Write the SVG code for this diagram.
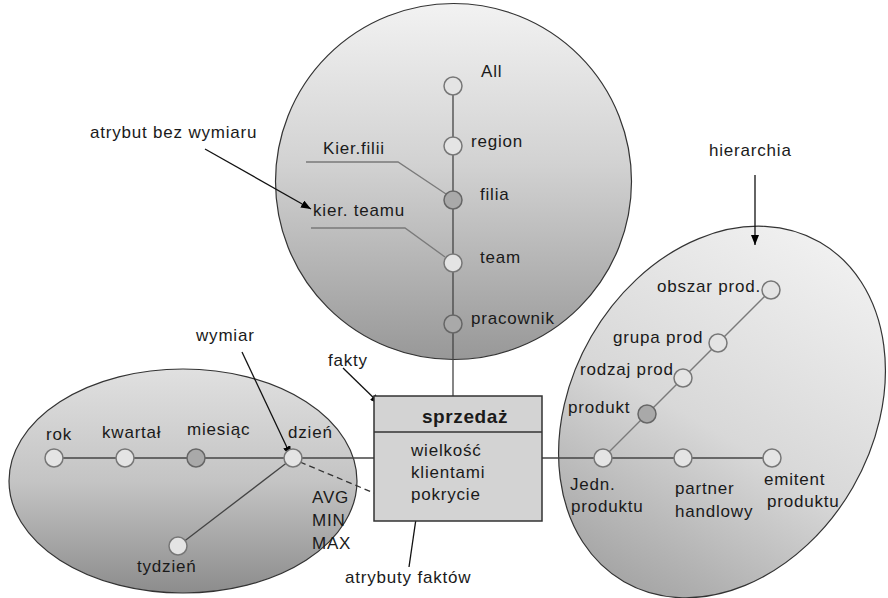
<svg xmlns="http://www.w3.org/2000/svg" width="888" height="598" viewBox="0 0 888 598">
  <defs>
    <linearGradient id="gTop" x1="0" y1="0" x2="0" y2="1">
      <stop offset="0" stop-color="#f2f2f2"/>
      <stop offset="0.45" stop-color="#d2d2d2"/>
      <stop offset="1" stop-color="#989898"/>
    </linearGradient>
    <linearGradient id="gLeft" x1="0" y1="0" x2="0" y2="1">
      <stop offset="0" stop-color="#e0e0e0"/>
      <stop offset="0.5" stop-color="#c4c4c4"/>
      <stop offset="1" stop-color="#8c8c8c"/>
    </linearGradient>
    <linearGradient id="gRight" x1="0" y1="0" x2="0" y2="1">
      <stop offset="0" stop-color="#f0f0f0"/>
      <stop offset="0.55" stop-color="#d8d8d8"/>
      <stop offset="1" stop-color="#a6a6a6"/>
    </linearGradient>
    <marker id="arr" markerUnits="userSpaceOnUse" markerWidth="10" markerHeight="8" refX="10" refY="4" orient="auto">
      <path d="M0,0 L10,4 L0,8 z" fill="#000"/>
    </marker>
  </defs>
  <style>
    text { font-family: "Liberation Sans", Arial, sans-serif; font-size: 17px; letter-spacing: 0.8px; fill: #1a1a1a; }
    .bold { font-weight: bold; font-size: 19px; letter-spacing: 0.6px; }
    .area { stroke: #333; stroke-width: 1.2; }
    .lvl { fill: #e4e4e4; stroke: #777; stroke-width: 1.5; }
    .key { fill: #a9a9a9; stroke: #666; stroke-width: 1.5; }
    .link { stroke: #444; stroke-width: 1.3; fill: none; }
    .soft { stroke: #7a7a7a; stroke-width: 1.3; fill: none; }
    .note { stroke: #111; stroke-width: 1.3; fill: none; marker-end: url(#arr); }
    .dash { stroke: #333; stroke-width: 1.3; stroke-dasharray: 6 4; fill: none; }
  </style>

  <!-- dimension areas -->
  <circle id="area-org" class="area" cx="453.5" cy="181.5" r="178" fill="url(#gTop)"/>
  <ellipse id="area-time" class="area" cx="183" cy="481" rx="174" ry="112" fill="url(#gLeft)"/>
  <g id="area-product" transform="translate(722 412) rotate(30)">
    <ellipse class="area" cx="0" cy="0" rx="151" ry="196" fill="url(#gRight)"/>
  </g>

  <!-- connectors -->
  <g id="connectors">
    <line class="link" x1="453" y1="86" x2="453" y2="396"/>
    <line class="link" x1="54" y1="458" x2="374" y2="458"/>
    <line class="link" x1="542" y1="458" x2="772" y2="458"/>
    <line class="link" x1="293" y1="458" x2="178" y2="546"/>
    <line class="soft" x1="603" y1="458" x2="771" y2="290"/>
    <polyline class="soft" points="306,162 398,162 446,194"/>
    <polyline class="soft" points="311,228 405,228 445,257"/>
    <line class="dash" x1="300" y1="462" x2="374" y2="493"/>
    <line class="note" x1="205" y1="149" x2="311" y2="209"/>
    <line class="note" x1="242" y1="352" x2="291" y2="456"/>
    <line class="note" x1="343" y1="368" x2="380" y2="404"/>
    <line class="note" x1="755" y1="175" x2="755" y2="245"/>
    <line class="note" x1="409" y1="567" x2="418" y2="505"/>
  </g>

  <!-- organisation hierarchy -->
  <g id="n-all"><circle class="lvl" cx="453" cy="86" r="9"/><text x="481" y="77">All</text></g>
  <g id="n-region"><circle class="lvl" cx="453" cy="146" r="9"/><text x="471" y="147">region</text></g>
  <g id="n-filia"><circle class="key" cx="453" cy="200" r="9"/><text x="480" y="200">filia</text></g>
  <g id="n-team"><circle class="lvl" cx="453" cy="263" r="9"/><text x="480" y="263">team</text></g>
  <g id="n-pracownik"><circle class="key" cx="453" cy="324" r="9"/><text x="471" y="324">pracownik</text></g>
  <g id="n-kierfilii"><text x="323" y="154">Kier.filii</text></g>
  <g id="n-kierteamu"><text x="313" y="216">kier. teamu</text></g>

  <!-- time hierarchy -->
  <g id="n-rok"><circle class="lvl" cx="54" cy="458" r="9"/><text x="46" y="440">rok</text></g>
  <g id="n-kwartal"><circle class="lvl" cx="125" cy="458" r="9"/><text x="102" y="438">kwartał</text></g>
  <g id="n-miesiac"><circle class="key" cx="196" cy="458" r="9"/><text x="187" y="435">miesiąc</text></g>
  <g id="n-dzien"><circle class="lvl" cx="293" cy="458" r="9"/><text x="288" y="438">dzień</text></g>
  <g id="n-tydzien"><circle class="lvl" cx="178" cy="546" r="9"/><text x="137" y="572">tydzień</text></g>
  <g id="n-agg">
    <text x="312" y="503">AVG</text>
    <text x="312" y="526">MIN</text>
    <text x="312" y="549">MAX</text>
  </g>

  <!-- product hierarchy -->
  <g id="n-obszar"><circle class="lvl" cx="771" cy="290" r="9"/><text x="657" y="292">obszar prod.</text></g>
  <g id="n-grupa"><circle class="lvl" cx="718" cy="343" r="9"/><text x="613" y="343">grupa prod</text></g>
  <g id="n-rodzaj"><circle class="lvl" cx="683" cy="378" r="9"/><text x="580" y="375">rodzaj prod</text></g>
  <g id="n-produkt"><circle class="key" cx="647" cy="414" r="9"/><text x="568" y="413">produkt</text></g>
  <g id="n-jedn"><circle class="lvl" cx="603" cy="458" r="9"/><text x="570" y="490">Jedn.</text><text x="571" y="512">produktu</text></g>
  <g id="n-partner"><circle class="lvl" cx="683" cy="458" r="9"/><text x="675" y="494">partner</text><text x="675" y="517">handlowy</text></g>
  <g id="n-emitent"><circle class="lvl" cx="772" cy="458" r="9"/><text x="764" y="485">emitent</text><text x="767" y="507">produktu</text></g>

  <!-- fact table -->
  <g id="n-sprzedaz">
    <rect x="374" y="396" width="168" height="125" fill="#d3d3d3" stroke="#333" stroke-width="1.5"/>
    <line x1="374" y1="432" x2="542" y2="432" stroke="#333" stroke-width="1.5"/>
    <text class="bold" x="465" y="423" text-anchor="middle">sprzedaż</text>
    <text x="411" y="456">wielkość</text>
    <text x="411" y="478">klientami</text>
    <text x="411" y="500">pokrycie</text>
  </g>

  <!-- annotations -->
  <g id="l-atrybut"><text x="90" y="138">atrybut bez wymiaru</text></g>
  <g id="l-wymiar"><text x="196" y="341">wymiar</text></g>
  <g id="l-fakty"><text x="328" y="366">fakty</text></g>
  <g id="l-hierarchia"><text x="709" y="156">hierarchia</text></g>
  <g id="l-atrybuty"><text x="345" y="583">atrybuty faktów</text></g>
</svg>
